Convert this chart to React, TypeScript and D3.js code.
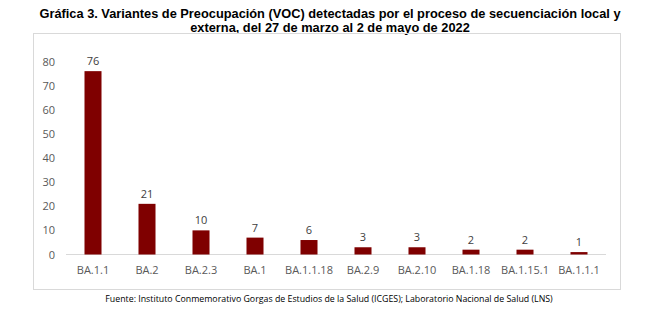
import React from "react";
import * as d3 from "d3";

const categories = ["BA.1.1", "BA.2", "BA.2.3", "BA.1", "BA.1.1.18", "BA.2.9", "BA.2.10", "BA.1.18", "BA.1.15.1", "BA.1.1.1"];
const values = [76, 21, 10, 7, 6, 3, 3, 2, 2, 1];
const yTicks = [0, 10, 20, 30, 40, 50, 60, 70, 80];
const titleLines = [
  "Gráfica 3. Variantes de Preocupación (VOC) detectadas por el proceso de secuenciación local y",
  "externa, del 27 de marzo al 2 de mayo de 2022",
];
const source = "Fuente: Instituto Conmemorativo Gorgas de Estudios de la Salud (ICGES); Laboratorio Nacional de Salud (LNS)";

export default function App() {
  const W = 656, H = 323;
  const x = d3.scaleBand<string>().domain(categories).range([66, 606]).paddingInner(0.685).paddingOuter(0.3425);
  const y = d3.scaleLinear().domain([0, 80]).range([254.5, 61.5]);
  const font = "'Open Sans', 'DejaVu Sans', sans-serif";
  const titleFont = "'Liberation Sans', Arial, sans-serif";
  return (
    <svg width={W} height={H} style={{ position: "absolute", left: 0, top: 0, background: "#fff" }}>
      <rect x={0} y={0} width={W} height={H} fill="#fff" />
      {titleLines.map((t, i) => (
        <text key={i} x={330} y={17.5 + i * 14.8} textAnchor="middle" fontFamily={titleFont} fontWeight="bold" fontSize={12.8} fill="#000">
          {t}
        </text>
      ))}
      <rect x={33.5} y={33.5} width={587} height={256} fill="none" stroke="#d9d9d9" strokeWidth={1} />
      {yTicks.map((t) => (
        <text key={t} x={55} y={y(t) + 4} textAnchor="end" fontFamily={font} fontSize={11} fill="#595959">
          {t}
        </text>
      ))}
      <line x1={66} x2={606} y1={y(0)} y2={y(0)} stroke="#d9d9d9" strokeWidth={1} />
      {categories.map((c, i) => (
        <g key={c}>
          <rect x={x(c)} y={y(values[i])} width={x.bandwidth()} height={y(0) - y(values[i])} fill="#7f0000" />
          <text x={(x(c) as number) + x.bandwidth() / 2} y={y(values[i]) - 6} textAnchor="middle" fontFamily={font} fontSize={11} fill="#404040">
            {values[i]}
          </text>
          <text x={(x(c) as number) + x.bandwidth() / 2} y={274} textAnchor="middle" fontFamily={font} fontSize={11} fill="#595959">
            {c}
          </text>
        </g>
      ))}
      <text x={329} y={302} textAnchor="middle" fontFamily={font} fontSize={8.8} fill="#000">
        {source}
      </text>
    </svg>
  );
}
